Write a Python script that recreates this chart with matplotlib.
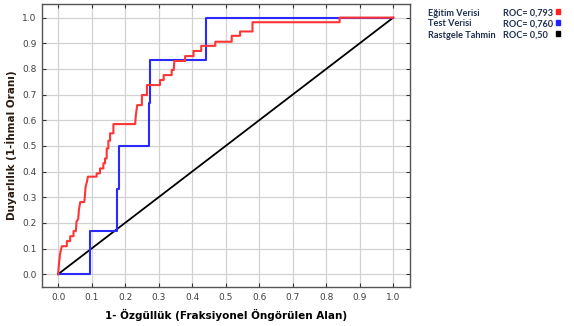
import matplotlib
matplotlib.use("Agg")
import matplotlib.pyplot as plt

# egitim (training) ROC curve vertices
train_fpr = [0.0, 0.003, 0.006, 0.011, 0.026, 0.026, 0.036, 0.036, 0.046, 0.046,
             0.053, 0.055, 0.060, 0.062, 0.066, 0.078, 0.080, 0.082, 0.086, 0.089,
             0.115, 0.115, 0.125, 0.125, 0.135, 0.135, 0.140, 0.140, 0.145, 0.145,
             0.150, 0.150, 0.155, 0.155, 0.165, 0.165, 0.230, 0.232, 0.236, 0.250,
             0.250, 0.265, 0.265, 0.304, 0.304, 0.315, 0.315, 0.339, 0.339, 0.345,
             0.347, 0.379, 0.379, 0.404, 0.404, 0.427, 0.427, 0.469, 0.469, 0.518,
             0.518, 0.543, 0.543, 0.580, 0.580, 0.840, 0.840, 1.0]
train_tpr = [0.0, 0.045, 0.080, 0.109, 0.109, 0.129, 0.129, 0.148, 0.148, 0.168,
             0.168, 0.205, 0.215, 0.250, 0.281, 0.281, 0.305, 0.341, 0.360, 0.380,
             0.380, 0.393, 0.393, 0.412, 0.412, 0.432, 0.432, 0.451, 0.451, 0.490,
             0.490, 0.520, 0.520, 0.549, 0.549, 0.585, 0.585, 0.620, 0.659, 0.659,
             0.698, 0.698, 0.737, 0.737, 0.757, 0.757, 0.776, 0.776, 0.796, 0.796,
             0.831, 0.831, 0.850, 0.850, 0.870, 0.870, 0.890, 0.890, 0.906, 0.906,
             0.929, 0.929, 0.946, 0.946, 0.982, 0.982, 1.0, 1.0]

# test ROC curve vertices
test_fpr = [0.0, 0.095, 0.095, 0.175, 0.175, 0.183, 0.183, 0.270, 0.270, 0.275,
            0.275, 0.440, 0.440, 1.0]
test_tpr = [0.0, 0.0, 0.167, 0.167, 0.333, 0.333, 0.5, 0.5, 0.667, 0.667,
            0.833, 0.833, 1.0, 1.0]

random_fpr = [0.0, 1.0]
random_tpr = [0.0, 1.0]

legend_names = ["Eğitim Verisi", "Test Verisi", "Rastgele Tahmin"]
legend_roc = ["ROC= 0,793", "ROC= 0,760", "ROC= 0,50"]
legend_colors = ["#ff2020", "#2020ff", "black"]

ticks = [0.0, 0.1, 0.2, 0.3, 0.4, 0.5, 0.6, 0.7, 0.8, 0.9, 1.0]

fig = plt.figure(figsize=(5.74, 3.26), dpi=100)
ax = fig.add_axes([0.0732, 0.1196, 0.6411, 0.8681])

ax.plot(random_fpr, random_tpr, color="black", lw=1.3, zorder=3)
ax.plot(test_fpr, test_tpr, color="#2a2aff", lw=1.5, zorder=4)
ax.plot(train_fpr, train_tpr, color="#ff3535", lw=1.5, zorder=5)

ax.set_xlim(-0.048, 1.05)
ax.set_ylim(-0.05, 1.053)
ax.set_xticks(ticks)
ax.set_yticks(ticks)
ax.set_xticklabels([f"{t:.1f}" for t in ticks])
ax.set_yticklabels([f"{t:.1f}" for t in ticks])
ax.tick_params(direction="in", length=3, width=0.8, color="#333333",
               labelsize=6.5, labelcolor="#404040", top=True, right=True, pad=4)
ax.grid(True, color="#d2d2d2", lw=0.9)
ax.set_axisbelow(True)
for s in ax.spines.values():
    s.set_color("#555555")
    s.set_linewidth(1.0)

ax.set_xlabel("1- Özgüllük (Fraksiyonel Öngörülen Alan)", fontsize=7.5,
              fontweight="bold", labelpad=5)
ax.set_ylabel("Duyarlılık (1-İhmal Oranı)", fontsize=7.5,
              fontweight="bold", color="#2a1a10", labelpad=4)

# custom legend on the right
rows_y = [13, 24, 35]
for i in range(3):
    yf = 1 - rows_y[i] / 326
    fig.text(428 / 574, yf, legend_names[i], fontsize=6.6, fontweight="bold",
             family="Lato", color="#1f3050", va="center")
    fig.text(503 / 574, yf, legend_roc[i], fontsize=6.6, fontweight="bold",
             family="Lato", color="#1f3050", va="center")
    fig.patches.append(plt.Rectangle((556 / 574, yf - 0.5 / 326), 4 / 574, 4 / 326,
                                     transform=fig.transFigure,
                                     color=legend_colors[i]))

fig.savefig("out.png", dpi=100)
